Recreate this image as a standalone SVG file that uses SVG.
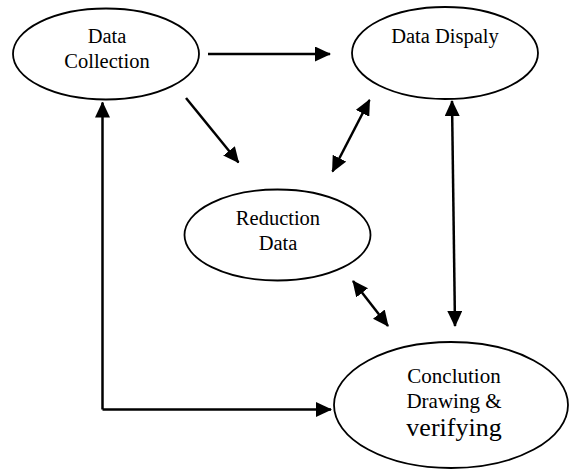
<svg xmlns="http://www.w3.org/2000/svg" width="570" height="470" viewBox="0 0 570 470">
<style>
.node ellipse { fill: #ffffff; stroke: #000000; stroke-width: 1.8; }
.node text { font-family: "Liberation Serif", "Times New Roman", serif; font-size: 20.5px; fill: #000000; text-anchor: middle; }
.conn line, .conn polyline { fill: none; stroke: #000000; stroke-width: 2.5; }
</style>
<defs>
<marker id="ah" markerUnits="userSpaceOnUse" markerWidth="16" markerHeight="15" refX="15" refY="7.5" orient="auto-start-reverse" viewBox="0 0 16 15">
<path d="M0,0 L16,7.5 L0,15 z" fill="#000000"/>
</marker>
</defs>
<rect width="570" height="470" fill="#ffffff"/>
<g id="n-collection" class="node">
<ellipse cx="106" cy="54" rx="93" ry="45.5"/>
<text x="107" y="43.3">Data</text>
<text x="107" y="68.3">Collection</text>
</g>
<g id="n-display" class="node">
<ellipse cx="445" cy="53" rx="93" ry="46"/>
<text x="445" y="43.3">Data Dispaly</text>
</g>
<g id="n-reduction" class="node">
<ellipse cx="277.5" cy="235" rx="93" ry="45.5"/>
<text x="278" y="225">Reduction</text>
<text x="278" y="250">Data</text>
</g>
<g id="n-conclusion" class="node">
<ellipse cx="451" cy="405" rx="117" ry="63"/>
<text x="454" y="383" style="font-size:21px">Conclution</text>
<text x="454" y="407.5" style="font-size:21px">Drawing &amp;</text>
<text x="454" y="435.5" style="font-size:26px">verifying</text>
</g>
<g id="connectors" class="conn">
<line x1="208" y1="54" x2="330" y2="54" marker-end="url(#ah)"/>
<line x1="186" y1="98" x2="238.5" y2="162.5" marker-end="url(#ah)"/>
<line x1="369.5" y1="100" x2="332.5" y2="171.5" marker-start="url(#ah)" marker-end="url(#ah)"/>
<line x1="452" y1="101" x2="455" y2="326" marker-start="url(#ah)" marker-end="url(#ah)"/>
<line x1="353" y1="281" x2="388" y2="326" marker-start="url(#ah)" marker-end="url(#ah)"/>
<polyline points="102.5,409.5 102.5,102.5" marker-end="url(#ah)"/>
<line x1="102.5" y1="409.5" x2="331" y2="409.5" marker-end="url(#ah)"/>
</g>
</svg>
